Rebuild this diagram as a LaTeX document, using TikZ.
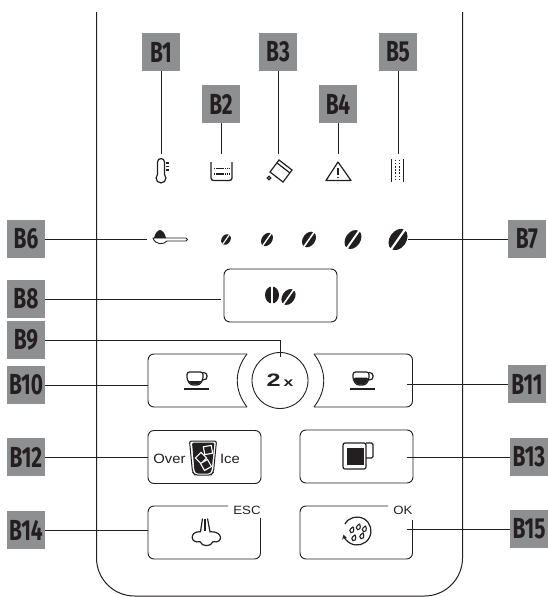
\documentclass[tikz,border=0pt]{standalone}
\usepackage{fontspec}
\setmainfont{Liberation Sans}
\newfontfamily\tagfont[FakeStretch=.72]{Fira Sans}
\newfontfamily\widefont[FakeStretch=1.4]{Liberation Sans}
\newfontfamily\keyfont[FakeStretch=1.1]{Liberation Sans}
\usetikzlibrary{arrows.meta}
\definecolor{taggray}{HTML}{8E8F91}
\definecolor{ink}{HTML}{231F20}
\tikzset{
  tagbox/.style={fill=taggray,text=ink,minimum size=38,inner sep=0,font=\tagfont\bfseries\fontsize{29}{29}\selectfont},
  btnbox/.style={draw=ink,line width=.9,rounded corners=6,minimum width=113,minimum height=53,inner sep=0},
  lead/.style={ink,line width=1},
  icon/.style={ink,line width=1.2},
  btntext/.style={text=ink,inner sep=0,font=\keyfont\fontsize{13.5}{13.5}\selectfont},
  keytext/.style={text=ink,inner sep=0,font=\keyfont\fontsize{12}{12}\selectfont},
  pics/bean/.style={code={
    \fill[ink] (0,0) ellipse[x radius=1,y radius=1.4];
    \fill[white] (-.13,-1.5) rectangle (.13,1.5);
  }},
  pics/cup/.style={code={
    \fill[ink,rounded corners=1.5] (-7.5,#1) -- (7.5,#1) -- (7.5,1) -- (4,6) -- (-4,6) -- (-7.5,1) -- cycle;
    \draw[icon,rounded corners=2.5] (-8,-6.5) -- (8,-6.5) -- (8,1) -- (4.5,6.5) -- (-4.5,6.5) -- (-8,1) -- cycle;
    \draw[icon] (8,-6) .. controls (13,-7) and (14,2) .. (8,1.5);
    \draw[icon] (-11,10.5) -- (14,10.5);
  }},
  pics/drop/.style={code={
    \draw[ink,line width=1.1,rotate=-20,scale=1.15] (0,-3) .. controls (2.8,.5) and (1.5,2.5) .. (0,2.5) .. controls (-1.5,2.5) and (-2.8,.5) .. (0,-3);
  }}
}
\begin{document}
\begin{tikzpicture}[x=1pt,y=-1pt]
\useasboundingbox (0,0) rectangle (548,597);

\draw[lead,rounded corners=38] (96.5,12) -- (96.5,596) -- (462.5,596) -- (462.5,12);

\foreach \name/\txt/\x/\y in {b1/B1/161/52,b2/B2/221/104,b3/B3/278/52,b4/B4/338/104,b5/B5/398/52,
  b6/B6/26/239,b7/B7/527/239,b8/B8/26/299,b9/B9/26/340,b10/B10/26/385,b11/B11/527/384,
  b12/B12/26/457,b13/B13/529/457,b14/B14/26/530,b15/B15/529/529}
  \node[tagbox] (\name) at (\x,\y) {\txt};

\coordinate (thermo) at (161,154);
\coordinate (tray) at (221,154);
\coordinate (tank) at (278,154);
\coordinate (warn) at (338,154);
\coordinate (filter) at (398,154);
\coordinate (spoon) at (147,239);
\coordinate (beanmax) at (408,239);
\coordinate (b8end) at (221,299);
\coordinate (b9end) at (280,357);
\coordinate (b10end) at (148,385);
\coordinate (b11end) at (407,384);
\coordinate (b13end) at (407,457);
\coordinate (b14end) at (148,530);
\coordinate (b15end) at (407,529);

\node[btnbox] (aroma) at (280.5,295.5) {};
\node[btnbox] (overice) at (204.5,457) {};
\node[btnbox] (mug) at (356.5,456.5) {};

\draw[lead] (b1) -- (thermo);
\draw[lead] (b2) -- (tray);
\draw[lead] (b3) -- (tank);
\draw[lead] (b4) -- (warn);
\draw[lead] (b5) -- (filter);
\draw[lead] (b6) -- (spoon);
\draw[lead] (b7) -- (beanmax);
\draw[lead] (b8) -- (b8end);
\draw[lead] (b9) -| (b9end);
\draw[lead] (b10) -- (b10end);
\draw[lead] (b11) -- (b11end);
\draw[lead] (b12) -- (overice);
\draw[lead] (b13) -- (b13end);
\draw[lead] (b14) -- (b14end);
\draw[lead] (b15) -- (b15end);

\draw[icon] (157.5,174.5) -- (157.5,162) arc[start angle=180,end angle=360,radius=3.5] -- (164.5,174.5) arc[start angle=-45,end angle=225,radius=4.95];
\foreach \y in {163,166.5,170} \draw[icon] (165.5,\y) -- (168.5,\y);

\draw[ink,line width=1.3,rounded corners=2.5] (211,162) -- (211,180.5) -- (232,180.5) -- (232,162);
\foreach \y in {168.5,174} \draw[ink,line width=1.8,dash pattern=on 1.4 off .7] (214,\y) -- (229,\y);

\draw[icon] (279,160) -- (292,170) -- (283,182) -- (270,172) -- cycle;
\draw[icon] (277,163) -- (290,173);
\draw[icon] (269,178) circle[radius=1.8];

\draw[icon,line join=round] (338,162) -- (351,180.5) -- (326,180.5) -- cycle;
\draw[icon] (338,168) -- (338,175);
\fill[ink] (338,177.5) circle[radius=.8];

\draw[ink,line width=1.8] (391.5,159) -- (391.5,182) (403.5,159) -- (403.5,182);
\foreach \x in {395.5,399.5} \draw[ink,line width=1.8,dash pattern=on 1.6 off 1.6] (\x,159.5) -- (\x,181.5);

\fill[ink] (154,238) .. controls (155,233) and (158,230) .. (160,230) .. controls (162,230) and (165,233) .. (166,238) -- cycle;
\draw[ink,line width=.9] (153,238) -- (186,238) arc[start angle=-90,end angle=90,radius=1.5] -- (167,241) .. controls (164,245) and (155,245) .. (153,238) -- cycle;

\foreach \x/\s in {226/4.3,267/5.2,309/6.1,353/7.4,398/8.3}
  \pic[scale=\s,rotate=-35] at (\x,239.5) {bean};

\fill[ink] (272,295) ellipse[x radius=7,y radius=8.5];
\fill[white] (271.2,285) rectangle (272.8,305);
\pic[scale=6.2,rotate=-35] at (288.5,297) {bean};

\draw[ink,line width=.9,rounded corners=6] (247,407) -- (148,407) -- (148,354) -- (247,354);
\draw[ink,line width=.9] (247,354) .. controls (234,371) and (234,390) .. (247,407);
\draw[ink,line width=.9,rounded corners=6] (314,354) -- (412.5,354) -- (412.5,407) -- (314,407);
\draw[ink,line width=.9] (314,354) .. controls (327,371) and (327,390) .. (314,407);
\node[draw=ink,line width=.9,circle,minimum size=56,inner sep=0,text=ink,font=\widefont\bfseries] (twox) at (280,380.5) {\fontsize{18}{18}\selectfont 2\,\fontsize{12.5}{12.5}\selectfont x};
\pic at (195,378.5) {cup=2.5};
\pic at (361,378.5) {cup=-1};

\node[btntext] (overtxt) at (169.5,458.5) {Over};
\node[btntext] (icetxt) at (230,458.5) {Ice};
\draw[ink,line width=1,fill=white,rounded corners=2] (189.5,441) -- (216.5,441) -- (213.5,472) -- (211,475) -- (195,475) -- (192.5,472) -- cycle;
\fill[ink,rounded corners=1.5] (192,442.5) -- (214.5,442.5) -- (211.5,471) -- (209.5,473.5) -- (196.5,473.5) -- (194.5,471) -- cycle;
\foreach \x/\y/\r in {208/450/10,201/458/45,206/465/30}
  \draw[white,line width=1.1,fill=ink,rotate around={\r:(\x,\y)}] (\x-4,\y-4) rectangle (\x+4,\y+4);

\draw[icon,rounded corners=2] (343,443) -- (366,443) -- (366,469) -- (343,469) -- cycle;
\fill[ink] (347,448) rectangle (364,465);
\draw[icon,rounded corners=1.5] (366,443) -- (373,443) -- (373,458) -- (366,458);

\draw[ink,line width=.9,rounded corners=6] (228,506) -- (148,506) -- (148,559) -- (260.5,559) -- (260.5,518);
\node[keytext] (esc) at (247,510) {ESC};
\draw[icon] (202.5,518.5) -- (200.5,531.7) .. controls (189,531) and (190,544) .. (200,541.7) .. controls (202,547) and (211,547) .. (213,541.7) .. controls (223,544) and (224,531) .. (210,531.7) -- (207.5,518.5);
\draw[icon] (205,518.5) -- (205,531);

\draw[ink,line width=.9,rounded corners=6] (388,506) -- (300,506) -- (300,559) -- (412.5,559) -- (412.5,520);
\node[keytext] (ok) at (403,510) {OK};
\draw[icon,-{Stealth[length=4.5,width=5]}] (357,531) ++(-150:14) arc[start angle=-150,end angle=165,radius=14];
\foreach \x/\y in {352/530,358.5/527,364.5/529,354/538,362/536}
  \pic at (\x,\y) {drop};

\end{tikzpicture}
\end{document}
